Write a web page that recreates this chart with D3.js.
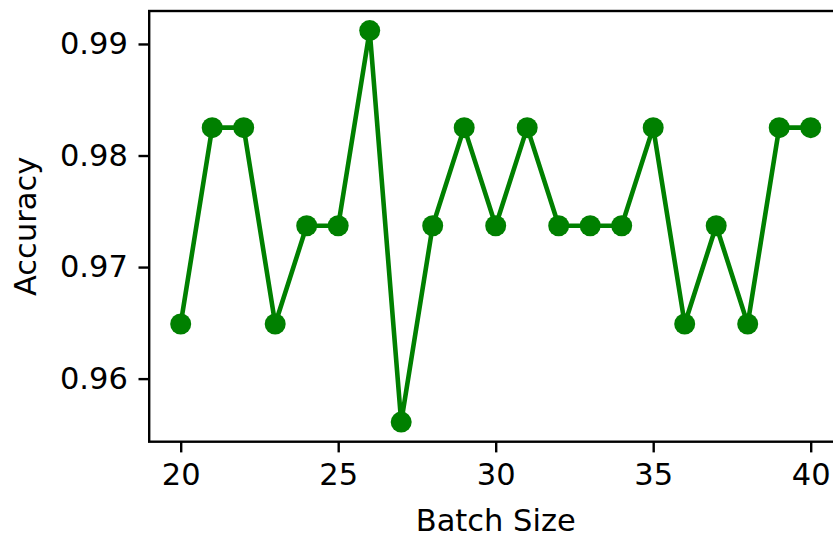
<!DOCTYPE html>
<html>
<head>
<meta charset="utf-8">
<script src="https://cdn.jsdelivr.net/npm/d3@7"></script>
<style>
  body { margin: 0; background: white; }
  svg { display: block; }
</style>
</head>
<body>
<div id="chart"></div>
<script>
// batch sizes and the accuracy
var batch_sizes = [20, 21, 22, 23, 24, 25, 26, 27, 28, 29, 30, 31, 32, 33, 34, 35, 36, 37, 38, 39, 40];
var accuracy = [0.9649, 0.9825, 0.9825, 0.9649, 0.9737, 0.9737, 0.9912, 0.9561, 0.9737, 0.9825, 0.9737,
                0.9825, 0.9737, 0.9737, 0.9737, 0.9825, 0.9649, 0.9737, 0.9649, 0.9825, 0.9825];
var x_ticks = [20, 25, 30, 35, 40];
var y_ticks = [0.96, 0.97, 0.98, 0.99];

var W = 833, H = 537;
var left = 149.2, top_ = 11;
var plot_w = 693, plot_h = 430.7;
var font = "DejaVu Sans";
var fsize = "30.5px";

var svg = d3.select("#chart").append("svg")
  .attr("width", W)
  .attr("height", H);

var g = svg.append("g").attr("transform", "translate(" + left + "," + top_ + ")");

// matplotlib-like 5% margins
var xpad = (d3.max(batch_sizes) - d3.min(batch_sizes)) * 0.05;
var ypad = (d3.max(accuracy) - d3.min(accuracy)) * 0.05;
var x = d3.scaleLinear()
  .domain([d3.min(batch_sizes) - xpad, d3.max(batch_sizes) + xpad])
  .range([0, plot_w]);
var y = d3.scaleLinear()
  .domain([d3.min(accuracy) - ypad, d3.max(accuracy) + ypad])
  .range([plot_h, 0]);

var pts = batch_sizes.map(function(b, i){ return [b, accuracy[i]]; });

g.append("path")
  .datum(pts)
  .attr("fill", "none")
  .attr("stroke", "green")
  .attr("stroke-width", 4.6)
  .attr("stroke-linejoin", "round")
  .attr("d", d3.line().x(function(d){ return x(d[0]); }).y(function(d){ return y(d[1]); }));

g.selectAll("circle.pt")
  .data(pts)
  .enter().append("circle")
  .attr("class", "pt")
  .attr("cx", function(d){ return x(d[0]); })
  .attr("cy", function(d){ return y(d[1]); })
  .attr("r", 10.5)
  .attr("fill", "green");

// spines
g.append("rect")
  .attr("x", 0).attr("y", 0)
  .attr("width", plot_w).attr("height", plot_h)
  .attr("fill", "none")
  .attr("stroke", "black")
  .attr("stroke-width", 2.4);

var xAxis = g.append("g")
  .attr("transform", "translate(0," + plot_h + ")")
  .call(d3.axisBottom(x).tickValues(x_ticks).tickSize(10.7).tickPadding(10.7).tickFormat(d3.format("d")));

var yAxis = g.append("g")
  .call(d3.axisLeft(y).tickValues(y_ticks).tickSize(10.7).tickPadding(10.7).tickFormat(d3.format(".2f")));

[xAxis, yAxis].forEach(function(a){
  a.select(".domain").remove();
  a.selectAll(".tick line").attr("stroke", "black").attr("stroke-width", 2.4);
  a.selectAll(".tick text")
    .attr("fill", "black")
    .style("font-family", font)
    .style("font-size", fsize);
});

svg.append("text")
  .attr("x", left + plot_w / 2)
  .attr("y", 531)
  .attr("text-anchor", "middle")
  .style("font-family", font)
  .style("font-size", fsize)
  .text("Batch Size");

svg.append("text")
  .attr("transform", "translate(36," + (top_ + plot_h / 2) + ") rotate(-90)")
  .attr("text-anchor", "middle")
  .style("font-family", font)
  .style("font-size", fsize)
  .text("Accuracy");
</script>
</body>
</html>
